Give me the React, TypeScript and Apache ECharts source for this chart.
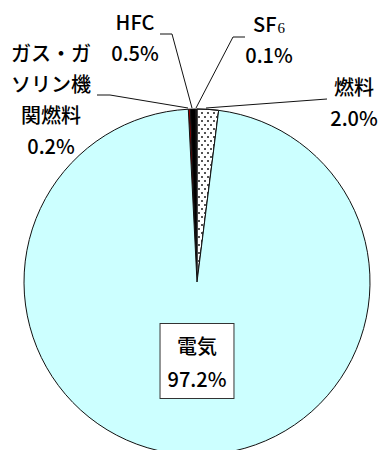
import React, { useEffect, useRef } from "react";
import * as echarts from "echarts";

// Emission breakdown by source (%)
const categories = ["ガス・ガソリン機関燃料", "HFC", "SF6", "燃料", "電気"];
const values = [0.2, 0.5, 0.1, 2.0, 97.2];
const sliceColors = ["#990000", "#000000", "#808080", "#ffffff", "#ccffff"];

// Label anchor (centre of text block) and leader-line elbow points per slice
const labelPos: { x: number; y: number; line?: number[][] }[] = [
  { x: 51, y: 99, line: [[188, 108], [110, 95], [97, 95]] },
  { x: 135, y: 37, line: [[192, 108], [172, 34], [160, 34]] },
  { x: 269, y: 39, line: [[196, 108], [233, 37], [245, 37]] },
  { x: 354, y: 102, line: [[206, 108], [327, 99]] },
  { x: 197, y: 361 },
];

const FONT = "'Noto Sans CJK JP', 'Noto Sans', sans-serif";

function wrap(s: string, n: number): string {
  if (s.length <= n) return s;
  const out: string[] = [];
  for (let i = 0; i < s.length; i += n) out.push(s.slice(i, i + n));
  return out.join("\n");
}

export default function App() {
  const ref = useRef<HTMLDivElement>(null);

  useEffect(() => {
    if (!ref.current) return;
    const chart = echarts.init(ref.current, undefined, { renderer: "svg" });
    const total = values.reduce((a, b) => a + b, 0);
    // start so that the small slices sit just left of 12 o'clock
    const startAngle = 90 + ((values[0] + values[1] + values[2]) / total) * 360;

    const data = categories.map((name, i) => {
      const item: any = {
        name,
        value: values[i],
        itemStyle: { color: sliceColors[i] },
      };
      if (name === "燃料") {
        item.itemStyle.decal = {
          symbol: "rect",
          symbolSize: 1,
          color: "#555555",
          backgroundColor: "#ffffff",
          dashArrayX: [
            [2, 4],
            [0, 3, 2, 1],
          ],
          dashArrayY: [2, 2],
          rotation: 0,
        };
      }
      if (name === "電気") {
        item.labelLine = { show: false };
        item.label = {
          backgroundColor: "#ffffff",
          borderColor: "#333333",
          borderWidth: 1,
          padding: [5, 7, 3, 7],
          lineHeight: 33,
        };
      }
      return item;
    });

    chart.setOption({
      animation: false,
      backgroundColor: "#ffffff",
      series: [
        {
          type: "pie",
          center: [197, 282],
          radius: 173,
          startAngle,
          clockwise: true,
          avoidLabelOverlap: false,
          data,
          itemStyle: { borderColor: "#111111", borderWidth: 1 },
          label: {
            show: true,
            position: "outside",
            color: "#000000",
            fontFamily: FONT,
            fontSize: 20,
            fontWeight: 500,
            lineHeight: 31,
            align: "center",
            formatter: (p: any) => {
              const pct = `${Number(p.value).toFixed(1)}%`;
              if (p.name === "SF6") return `{b|SF}{s|6}\n{b|${pct}}`;
              return `${wrap(p.name, 4)}\n${pct}`;
            },
            rich: {
              b: {
                fontFamily: FONT,
                fontSize: 20,
                fontWeight: 500,
                lineHeight: 31,
                color: "#000000",
              },
              s: {
                fontFamily: "'Liberation Serif', serif",
                fontSize: 15,
                lineHeight: 31,
                padding: [8, 0, 0, 1],
                color: "#000000",
              },
            },
          },
          labelLine: {
            show: true,
            lineStyle: { color: "#111111", width: 1 },
          },
          labelLayout: (params: any) => {
            const pos = labelPos[params.dataIndex];
            const res: any = {
              x: pos.x,
              y: pos.y,
              align: "center",
              verticalAlign: "middle",
            };
            if (pos.line) res.labelLinePoints = pos.line;
            return res;
          },
        },
      ],
    });
    return () => chart.dispose();
  }, []);

  return (
    <div
      ref={ref}
      style={{ position: "fixed", left: 0, top: 0, width: 379, height: 450 }}
    />
  );
}
